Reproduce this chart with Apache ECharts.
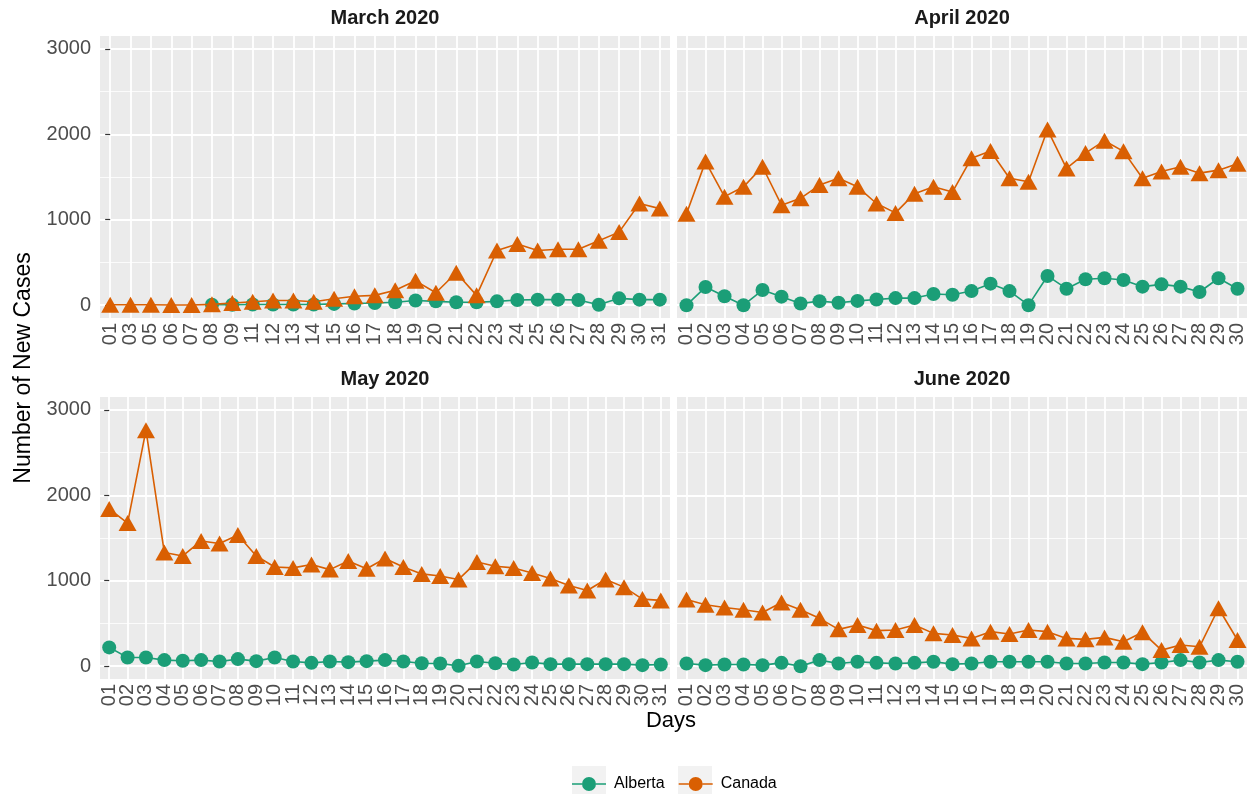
<!DOCTYPE html>
<html>
<head>
<meta charset="utf-8">
<script src="https://cdn.jsdelivr.net/npm/echarts@6/dist/echarts.min.js"></script>
<style>
  html, body { margin: 0; padding: 0; background: #fff; }
  #chart { width: 1253px; height: 794px; }
</style>
</head>
<body>
<div id="chart"></div>
<script>
// day labels per month (March has gaps in the source data)
var marDays = ['01','03','05','06','07','08','09','11','12','13','14','15','16','17','18','19','20','21','22','23','24','25','26','27','28','29','30','31'];
var aprDays = ['01','02','03','04','05','06','07','08','09','10','11','12','13','14','15','16','17','18','19','20','21','22','23','24','25','26','27','28','29','30'];
var mayDays = ['01','02','03','04','05','06','07','08','09','10','11','12','13','14','15','16','17','18','19','20','21','22','23','24','25','26','27','28','29','30','31'];
var junDays = aprDays.slice();

// new cases
var marCanada  = [5,5,5,3,3,10,25,40,55,55,40,75,105,115,175,285,145,380,115,640,715,640,655,655,755,855,1190,1130];
var marAlberta = ['-','-','-','-','-',5,5,8,8,8,8,15,20,25,35,55,45,35,35,45,60,65,65,60,5,80,65,65];

var aprCanada  = [1070,1680,1270,1385,1620,1170,1250,1405,1485,1385,1190,1080,1305,1385,1325,1720,1805,1485,1445,2055,1600,1780,1925,1800,1485,1565,1620,1545,1580,1655];
var aprAlberta = [0,212,105,0,177,100,20,47,28,50,67,83,83,130,122,165,252,165,0,342,193,303,315,295,217,244,217,154,315,193];

var mayCanada  = [1840,1675,2762,1330,1290,1465,1435,1535,1290,1160,1150,1190,1130,1230,1140,1260,1160,1080,1055,1015,1220,1170,1150,1090,1025,945,885,1015,925,785,770];
var mayAlberta = [220,102,102,71,63,71,55,83,59,102,55,39,55,47,59,71,55,35,31,4,55,35,20,43,24,24,24,24,24,12,20];

var junCanada  = [780,718,686,660,628,746,660,560,431,482,416,424,482,384,365,325,404,377,424,404,325,314,337,286,396,188,247,227,678,306];
var junAlberta = [31,12,20,20,12,39,0,71,31,51,39,31,39,51,24,31,51,51,51,51,31,31,43,43,24,43,71,43,71,51];

var panelTitles = ['March 2020', 'April 2020', 'May 2020', 'June 2020'];
var yTicks = [0, 1000, 2000, 3000];
var yMinor = [500, 1500, 2500];

var panels = [
  { days: marDays, alberta: marAlberta, canada: marCanada, left: 100, top: 36 },
  { days: aprDays, alberta: aprAlberta, canada: aprCanada, left: 677, top: 36 },
  { days: mayDays, alberta: mayAlberta, canada: mayCanada, left: 100, top: 397 },
  { days: junDays, alberta: junAlberta, canada: junCanada, left: 677, top: 397 }
];

var FONT = '"Liberation Sans", Arial, sans-serif';
var GREEN = '#1B9E77';
var ORANGE = '#D95F02';
var PANEL_W = 570, PANEL_H = 282;
// legend key: line with a circle in the middle (34 x 14 box)
var KEY_ICON = 'path://M0 6.2H10V7.8H0Z M24 6.2H34V7.8H24Z M10 7A7 7 0 1 0 24 7A7 7 0 1 0 10 7Z';

var chart = echarts.init(document.getElementById('chart'));

var grids = [], xAxes = [], yAxes = [], series = [], graphics = [];

panels.forEach(function (p, i) {
  var isLeft = i % 2 === 0;
  var n = p.days.length;
  var dayIdx = p.days.map(function (d, k) { return k; });
  grids.push({ left: p.left, top: p.top, width: PANEL_W, height: PANEL_H, backgroundColor: '#EBEBEB', show: true, borderWidth: 0 });

  // labels + outside ticks
  xAxes.push({
    type: 'category', gridIndex: i, data: p.days, boundaryGap: true, position: 'bottom',
    axisLine: { show: false },
    axisTick: { alignWithLabel: true, interval: 0, length: 5, lineStyle: { color: '#333333', width: 1.2 } },
    axisLabel: { rotate: 90, interval: 0, fontSize: 20, color: '#4D4D4D', fontFamily: FONT, margin: 5 },
    splitLine: { show: false }
  });
  // vertical white grid lines at each day (same band centres as the category axis)
  xAxes.push({
    type: 'value', gridIndex: i, min: -0.5, max: n - 0.5, position: 'top',
    axisLine: { show: false },
    axisTick: { show: false, customValues: dayIdx },
    axisLabel: { show: false, customValues: dayIdx },
    splitLine: { show: true, lineStyle: { color: '#fff', width: 1.8 } }
  });

  // major grid + labels
  yAxes.push({
    type: 'value', gridIndex: i, min: -150, max: 3150,
    axisLine: { show: false },
    axisTick: { show: isLeft, length: 5, customValues: yTicks, lineStyle: { color: '#333333', width: 1.2 } },
    axisLabel: {
      show: isLeft, customValues: yTicks, fontSize: 20, color: '#4D4D4D', fontFamily: FONT, margin: 9,
      formatter: function (v) { return String(v); }
    },
    splitLine: { show: true, lineStyle: { color: '#fff', width: 1.8 } }
  });
  // minor grid
  yAxes.push({
    type: 'value', gridIndex: i, min: -150, max: 3150,
    axisLine: { show: false },
    axisTick: { show: false, customValues: yMinor },
    axisLabel: { show: false, customValues: yMinor },
    splitLine: { show: true, lineStyle: { color: '#fff', width: 0.8 } }
  });

  series.push({
    name: 'Alberta', type: 'line', xAxisIndex: i * 2, yAxisIndex: i * 2, data: p.alberta,
    symbol: 'circle', symbolSize: 14, showAllSymbol: true, connectNulls: false,
    lineStyle: { color: GREEN, width: 1.6 }, itemStyle: { color: GREEN }, z: 3
  });
  series.push({
    name: 'Canada', type: 'line', xAxisIndex: i * 2, yAxisIndex: i * 2, data: p.canada,
    symbol: 'triangle', symbolSize: [18, 16], showAllSymbol: true,
    lineStyle: { color: ORANGE, width: 1.6 }, itemStyle: { color: ORANGE }, z: 4
  });

  graphics.push({
    type: 'text', x: p.left + PANEL_W / 2, y: p.top - 18,
    style: { text: panelTitles[i], font: 'bold 20px ' + FONT, fill: '#1A1A1A', textAlign: 'center', textVerticalAlign: 'middle' }
  });
});

// axis titles
graphics.push({
  type: 'text', x: 24, y: 368, rotation: Math.PI / 2,
  style: { text: 'Number of New Cases', font: '23px ' + FONT, fill: '#000', textAlign: 'center', textVerticalAlign: 'middle' }
});
graphics.push({
  type: 'text', x: 671, y: 721,
  style: { text: 'Days', font: '22px ' + FONT, fill: '#000', textAlign: 'center', textVerticalAlign: 'middle' }
});
// grey legend key backgrounds
graphics.push({ type: 'rect', shape: { x: 572, y: 766, width: 34, height: 34 }, style: { fill: '#F2F2F2' }, z: -1 });
graphics.push({ type: 'rect', shape: { x: 678, y: 766, width: 34, height: 34 }, style: { fill: '#F2F2F2' }, z: -1 });

var option = {
  backgroundColor: '#fff',
  animation: false,
  grid: grids,
  xAxis: xAxes,
  yAxis: yAxes,
  series: series,
  graphic: graphics,
  legend: {
    left: 567, top: 776, padding: [0, 5],
    itemWidth: 34, itemHeight: 14, itemGap: 14,
    textStyle: { fontSize: 16, color: '#000', fontFamily: FONT, padding: [0, 0, 0, 3] },
    data: [{ name: 'Alberta', icon: KEY_ICON }, { name: 'Canada', icon: KEY_ICON }]
  }
};

chart.setOption(option);
</script>
</body>
</html>
